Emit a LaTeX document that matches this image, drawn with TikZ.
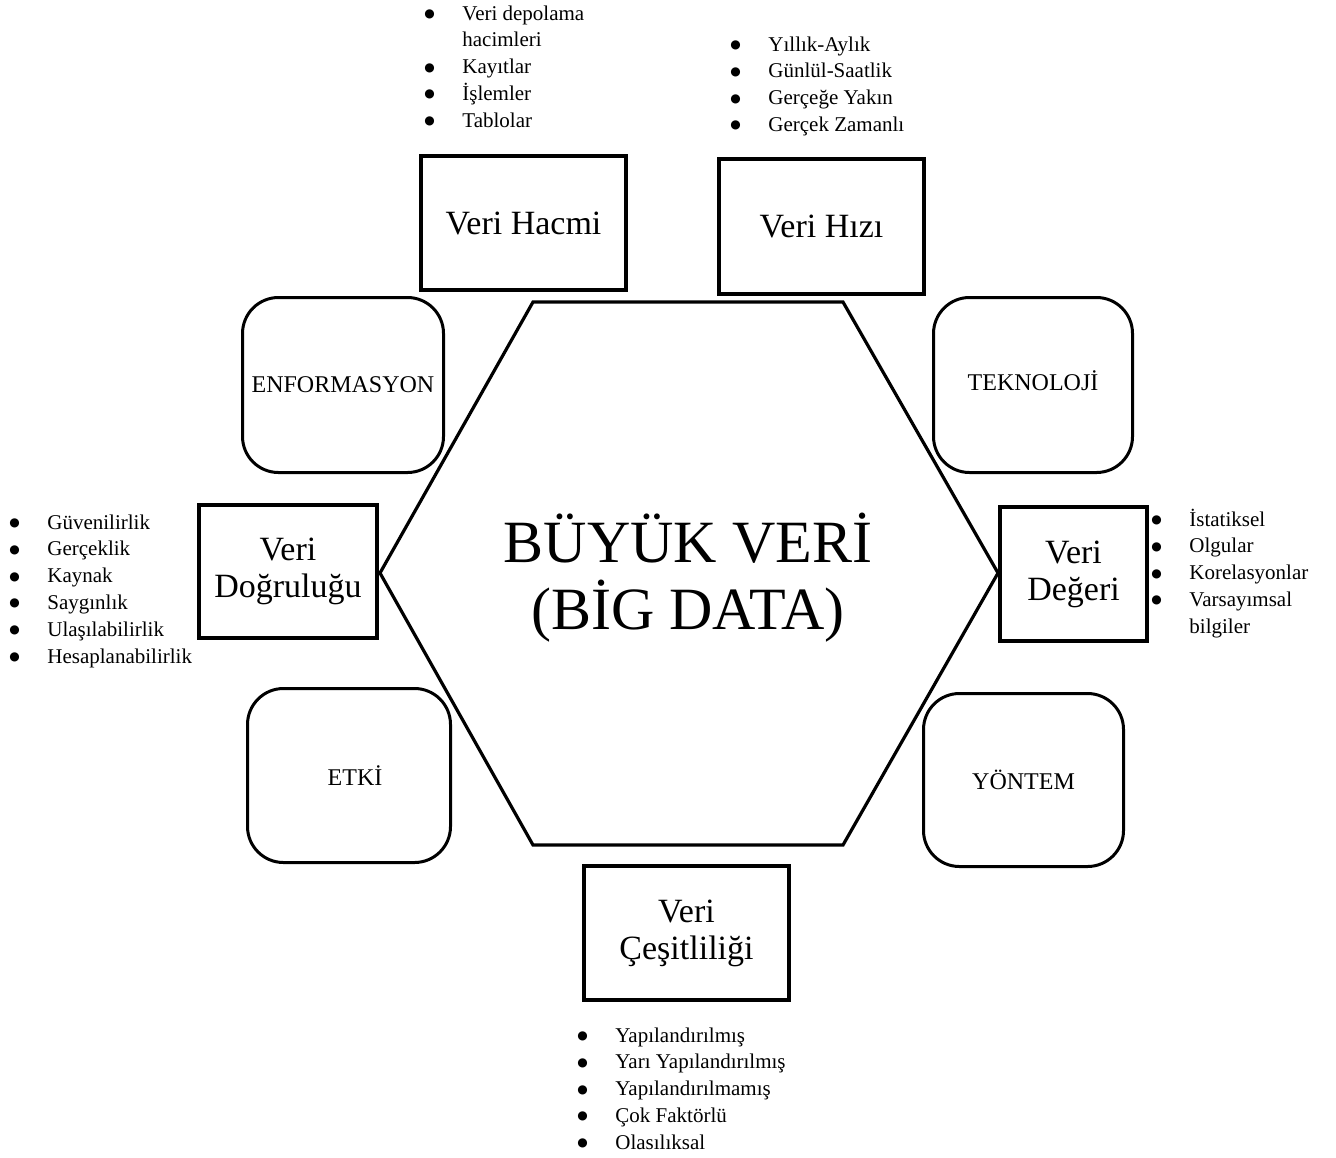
\documentclass[tikz,border=0pt]{standalone}
\usepackage{fontspec}
\setmainfont{Liberation Serif}
\newfontfamily\dotfont{DejaVu Sans}
\usetikzlibrary{positioning}

\tikzset{
  vbox/.style={draw, line width=2.2pt, align=center, inner sep=0pt,
    font=\fontsize{17}{18.5}\selectfont},
  softbox/.style={draw, line width=1.5pt, rounded corners=18pt, inner sep=0pt,
    font=\fontsize{12}{14}\selectfont},
  bulletlist/.style={anchor=north west, inner sep=0pt,
    font=\fontsize{10.5}{13.4}\selectfont},
  hexline/.style={line width=1.6pt, line join=miter},
}
\newcommand{\bl}{\raisebox{1.3pt}{\dotfont\fontsize{6}{6}\selectfont ●}}

\begin{document}
\begin{tikzpicture}[x=0.5pt, y=-0.5pt]
    \useasboundingbox (0,0) rectangle (1336,1157);
    % Rounded corner boxes
    \node[softbox, minimum width=100.5pt, minimum height=87.5pt] (enfo) at (343,385) {ENFORMASYON};
    \node[softbox, minimum width=99.5pt, minimum height=87.5pt] (tekno) at (1033,385) {\raisebox{4pt}{TEKNOLOJİ}};
    \node[softbox, minimum width=101.5pt, minimum height=87pt] (etki) at (349,775.5) {\hspace{6pt}ETKİ};
    \node[softbox, minimum width=100pt, minimum height=86.5pt] (yontem) at (1023.5,780) {YÖNTEM};
    % The five V boxes
    \node[vbox, minimum width=102.5pt, minimum height=67pt] (hacim) at (523.5,223) {Veri Hacmi};
    \node[vbox, minimum width=102.5pt, minimum height=67.5pt] (hiz) at (821.5,226.5) {Veri Hızı};
    \node[vbox, minimum width=89pt, minimum height=66.5pt] (dogru) at (288,571.5) {Veri\\Doğruluğu};
    \node[vbox, minimum width=73.5pt, minimum height=67pt] (deger) at (1073.5,574) {Veri\\Değeri};
    \node[vbox, minimum width=102.5pt, minimum height=67pt] (cesit) at (686.5,933) {Veri\\Çeşitliliği};
    % Hexagon in the middle
    \draw[hexline] (533,302) -- (843,302) -- (998,573) -- (843,845)
      -- (533,845) -- (380,573) -- cycle;
    \node[font=\fontsize{30}{33.5}\selectfont, align=center] (bigdata) at (688,578)
      {BÜYÜK VERİ\\(BİG DATA)};
    % Bullet lists
    \node[bulletlist] (hacimlist) at (424,1) {\begin{tabular}{@{}p{19pt}@{}l@{}}
      \bl & Veri depolama\\
          & hacimleri\\
      \bl & Kayıtlar\\
      \bl & İşlemler\\
      \bl & Tablolar
    \end{tabular}};
    \node[bulletlist] (hizlist) at (730,32) {\begin{tabular}{@{}p{19pt}@{}l@{}}
      \bl & Yıllık-Aylık\\
      \bl & Günlül-Saatlik\\
      \bl & Gerçeğe Yakın\\
      \bl & Gerçek Zamanlı
    \end{tabular}};
    \node[bulletlist] (dogrulist) at (9,510) {\begin{tabular}{@{}p{19pt}@{}l@{}}
      \bl & Güvenilirlik\\
      \bl & Gerçeklik\\
      \bl & Kaynak\\
      \bl & Saygınlık\\
      \bl & Ulaşılabilirlik\\
      \bl & Hesaplanabilirlik
    \end{tabular}};
    \node[bulletlist] (degerlist) at (1151,507) {\begin{tabular}{@{}p{19pt}@{}l@{}}
      \bl & İstatiksel\\
      \bl & Olgular\\
      \bl & Korelasyonlar\\
      \bl & Varsayımsal\\
          & bilgiler
    \end{tabular}};
    \node[bulletlist] (cesitlist) at (577,1023) {\begin{tabular}{@{}p{19pt}@{}l@{}}
      \bl & Yapılandırılmış\\
      \bl & Yarı Yapılandırılmış\\
      \bl & Yapılandırılmamış\\
      \bl & Çok Faktörlü\\
      \bl & Olasılıksal
    \end{tabular}};
\end{tikzpicture}
\end{document}
